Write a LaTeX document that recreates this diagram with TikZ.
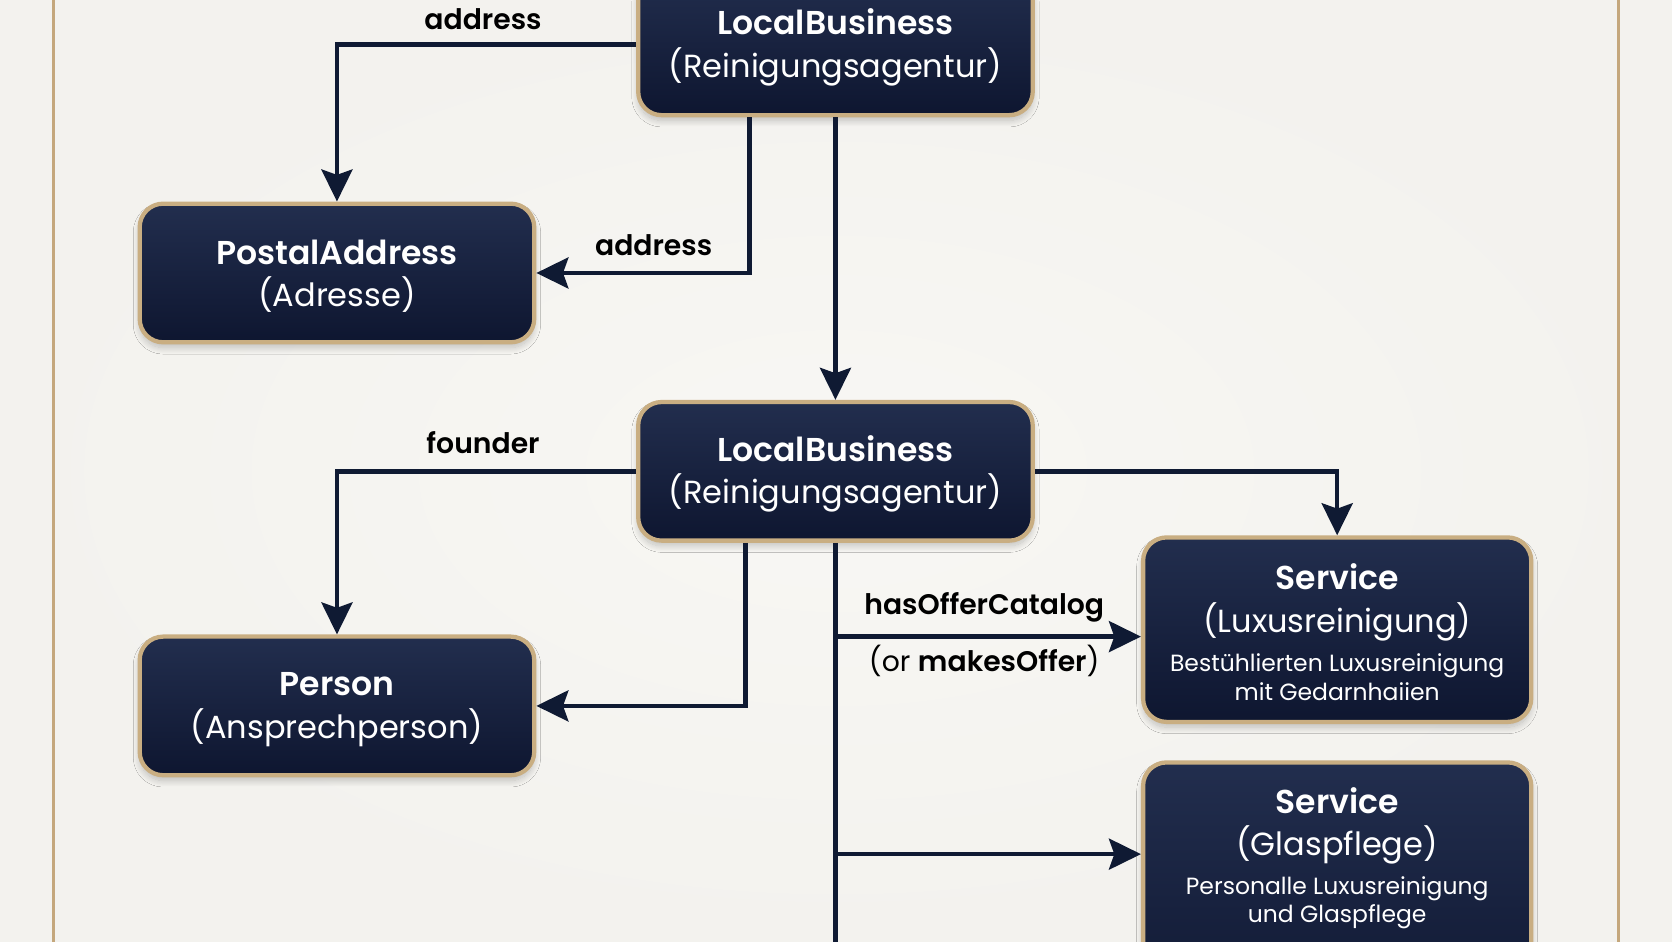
\documentclass[tikz,border=0pt]{standalone}
\usepackage{fontspec}
\setmainfont{Poppins}[BoldFont={Poppins SemiBold}]
\usetikzlibrary{arrows.meta,shadows,shadows.blur,calc}
\definecolor{bg}{HTML}{F3F2EE}
\definecolor{bgin}{HTML}{F8F7F4}
\definecolor{navyT}{HTML}{222E4E}
\definecolor{navyB}{HTML}{0E1630}
\definecolor{gold}{HTML}{C9AE82}
\definecolor{goldline}{HTML}{C4A77C}
\definecolor{ink}{HTML}{0F1A33}
\newcommand\boxtitle{\fontsize{31}{40}\selectfont\bfseries}
\newcommand\boxsub{\fontsize{30}{40}\selectfont\mdseries}
\newcommand\boxdesc{\fontsize{22}{28}\selectfont\mdseries}
\newcommand\topstrut{\rule{0pt}{29pt}}
\begin{document}
\begin{tikzpicture}[x=1pt,y=-1pt,
  box/.style={rectangle, rounded corners=22pt, draw=gold, line width=4pt,
    top color=navyT, bottom color=navyB, text=white, align=center, inner sep=0pt,
    font=\fontsize{30}{40}\selectfont,
    blur shadow={shadow xshift=0pt, shadow yshift=-5pt, shadow blur radius=6pt, shadow blur steps=14, shadow opacity=22}},
  boxtext/.style={text=white, align=center, inner sep=0pt, font=\fontsize{30}{40}\selectfont},
  conn/.style={draw=ink, line width=4.3pt, -{Stealth[length=30pt,width=29pt,inset=5pt]}},
  trunk/.style={draw=ink, line width=4.3pt},
  lbl/.style={font=\fontsize{26.5}{30}\selectfont\bfseries, text=black, inner sep=0pt},
  lblr/.style={font=\fontsize{26.5}{30}\selectfont, text=black, inner sep=0pt}]
\useasboundingbox (0,0) rectangle (1568,882.5);
\clip (0,0) rectangle (1568,882.5);
\shade[inner color=bgin, outer color=bg] (0,0) rectangle (1568,882.5);
\draw[goldline, line width=3pt] (50,-5) -- (50,890);
\draw[goldline, line width=3pt] (1518,-5) -- (1518,890);

% nodes
\node[box, minimum width=370pt, minimum height=132pt] (lb1) at (783.5,42)
  {\topstrut\boxtitle LocalBusiness\\\boxsub (Reinigungsagentur)};
\node[box, minimum width=370pt, minimum height=130pt] (pa) at (316,256)
  {\topstrut\boxtitle PostalAddress\\\boxsub (Adresse)};
\node[box, minimum width=370pt, minimum height=130pt] (lb2) at (783.5,442)
  {\topstrut\boxtitle LocalBusiness\\\boxsub (Reinigungsagentur)};
\node[box, minimum width=370pt, minimum height=130pt] (per) at (316,662)
  {\topstrut\boxtitle Person\\\boxsub (Ansprechperson)};
\node[box, minimum width=364pt, minimum height=173pt] (s1) at (1254,590.5)
  {\topstrut\boxtitle Service\\\boxsub (Luxusreinigung)\\[-3pt]\boxdesc Bestühlierten Luxusreinigung\\[-13pt]\boxdesc mit Gedarnhaiien};
\node[box, minimum width=364pt, minimum height=260pt, anchor=north] (s2) at (1254,713) {};
\node[boxtext, anchor=north] (s2t) at (1254,738)
  {\boxtitle Service\\\boxsub (Glaspflege)\\[-4pt]\boxdesc Personalle Luxusreinigung\\[-13pt]\boxdesc und Glaspflege};

% coordinates
\coordinate (a2) at ($(lb1.south)+(-80.5,0)$);
\coordinate (f2) at ($(lb2.south)+(-84.5,0)$);
\coordinate (b1) at ($(lb2.south)+(0,88)$);
\coordinate (b2) at ($(lb2.south)+(0,292)$);
\coordinate (bot) at ($(lb2.south)+(0,460)$);

% connectors
\draw[conn] (lb1.west) -| (pa.north);
\draw[conn] (a2) |- (pa.east);
\draw[conn] (lb1.south) -- (lb2.north);
\draw[conn] (lb2.west) -| (per.north);
\draw[conn] (lb2.east) -| (s1.north);
\draw[conn] (f2) |- (per.east);
\draw[trunk] (lb2.south) -- (bot);
\draw[conn] (b1) -- (b1 -| s1.west);
\draw[conn] (b2) -- (b2 -| s2.west);

% labels
\node[lbl] (l1) at (453,18) {address};
\node[lbl] (l2) at (613,230) {address};
\node[lbl] (l3) at (453,415) {founder};
\node[lbl] (l4) at (923,570) {hasOfferCatalog};
\node[lblr] (l5) at (923,620) {(or \textbf{makesOffer})};
\end{tikzpicture}
\end{document}
